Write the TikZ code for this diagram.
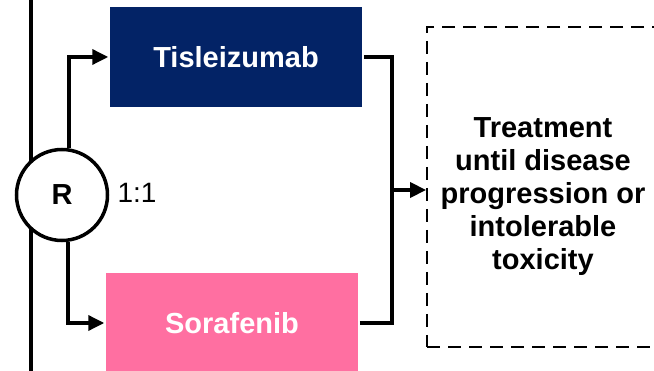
\documentclass[tikz,border=0pt]{standalone}
\usepackage{fontspec}
\setmainfont{Liberation Sans}
\usetikzlibrary{arrows.meta}

\definecolor{navy}{RGB}{3,35,102}
\definecolor{pinkarm}{RGB}{255,111,161}

\tikzset{
	arm/.style = {rectangle, minimum width=252, minimum height=100, text=white,
		font=\fontsize{29}{33}\selectfont\bfseries},
	flow/.style = {line width=3.5pt, -{Triangle[length=16pt,width=15pt]}}
}

\begin{document}
\begin{tikzpicture}[x=1pt, y=-1pt, line width=3.5pt]
	\useasboundingbox (0,0) rectangle (654,371);
	\clip (0,0) rectangle (654,371);

	% stratification line behind the randomisation circle
	\coordinate (top) at (31,0);
	\coordinate (bot) at (31,371);
	\draw (top) -- (bot);

	\node (R) at (62,195)	[circle, draw, fill = white, minimum size = 91, inner sep = 0pt,
		font = \fontsize{29}{33}\selectfont\bfseries]	{R};
	\node (ratio) at (137,193)	[font = \fontsize{28}{33}\selectfont]	{1:1};

	\node (T) at (236, 57)	[arm, fill = navy]	{Tisleizumab};
	\node (S) at (232,323)	[arm, fill = pinkarm]	{Sorafenib};

	% dashed frame, text set a little below its centre
	\node (D) at (543,187)	[draw, dashed, line width = 1.8pt, dash pattern = on 13pt off 8pt,
		minimum width = 232, minimum height = 320]	{};
	\node (Dtext) at ([yshift=-10pt]D.center)	[align = center,
		font = \fontsize{29}{33}\selectfont\bfseries]
		{Treatment\\until disease\\progression or\\intolerable\\toxicity};

	% arms out of R
	\draw[flow] ([xshift=7pt]R.north) |- (T.west);
	\draw[flow] ([xshift=6pt]R.south) |- (S.west);

	% arms join into the dashed frame
	\coordinate (J) at (392,190);
	\draw (T.east) -| (J);
	\draw (S.east) -| (J);
	\draw[flow] (J) -- (J -| D.west);
\end{tikzpicture}
\end{document}
